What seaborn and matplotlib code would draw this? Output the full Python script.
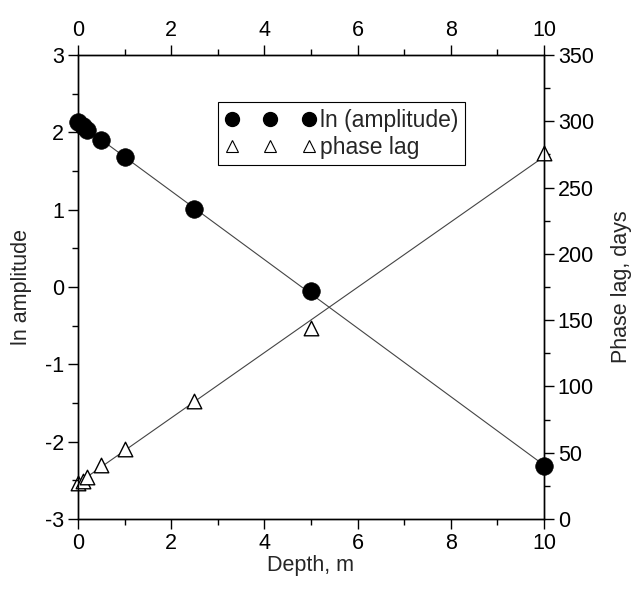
import numpy as np
import pandas as pd
import matplotlib
matplotlib.use("Agg")
import matplotlib.pyplot as plt
from matplotlib.lines import Line2D
from matplotlib.ticker import MultipleLocator
import seaborn as sns

depth = [0.0, 0.1, 0.2, 0.5, 1.0, 2.5, 5.0, 10.0]
ln_amp = [2.13, 2.08, 2.03, 1.90, 1.68, 1.01, -0.05, -2.32]
phase_lag = [27, 29, 32, 41, 53, 89, 144, 276]

sns.set_style("ticks")
plt.rcParams['font.family'] = ['Liberation Sans', 'DejaVu Sans']
plt.rcParams['font.size'] = 15
plt.rcParams['axes.unicode_minus'] = False
for a in ['x', 'y']:
    plt.rcParams[f'{a}tick.direction'] = 'out'
    plt.rcParams[f'{a}tick.major.size'] = 7
    plt.rcParams[f'{a}tick.minor.size'] = 4
    plt.rcParams[f'{a}tick.major.width'] = 1.0
    plt.rcParams[f'{a}tick.minor.width'] = 1.0
    plt.rcParams[f'{a}tick.color'] = 'black'
    plt.rcParams[f'{a}tick.labelcolor'] = 'black'
    plt.rcParams[f'{a}tick.labelsize'] = 15.5
    plt.rcParams[f'{a}tick.major.pad'] = 3
plt.rcParams['axes.edgecolor'] = 'black'
plt.rcParams['axes.linewidth'] = 1.0

df = pd.DataFrame({"depth": depth, "ln_amp": ln_amp, "phase": phase_lag})

# linear fits through the data
xs = np.array([0.0, 10.0])
pa = np.polyfit(df.depth, df.ln_amp, 1)
pp = np.polyfit(df.depth, df.phase, 1)
fit_amp = pd.DataFrame({"depth": xs, "v": np.polyval(pa, xs)})
fit_ph = pd.DataFrame({"depth": xs, "v": np.polyval(pp, xs)})

fig = plt.figure(figsize=(6.36, 5.97), dpi=100)
ax = fig.add_axes([0.1226, 0.1307, 0.7327, 0.7772])
ax2 = ax.twinx()

sns.lineplot(data=fit_amp, x="depth", y="v", ax=ax, color="#444444", lw=0.8)
sns.scatterplot(data=df, x="depth", y="ln_amp", ax=ax, color="black", s=160,
                marker="o", edgecolor="black", linewidth=0.5, zorder=5,
                clip_on=False)
sns.lineplot(data=fit_ph, x="depth", y="v", ax=ax2, color="#444444", lw=0.8)
sns.scatterplot(data=df, x="depth", y="phase", ax=ax2, marker="^", s=110,
                facecolor="white", edgecolor="black", linewidth=1.0, zorder=5,
                clip_on=False)

ax.set_xlim(0, 10)
ax.set_ylim(-3, 3)
ax2.set_ylim(0, 350)
ax.xaxis.set_major_locator(MultipleLocator(2))
ax.xaxis.set_minor_locator(MultipleLocator(1))
ax.yaxis.set_major_locator(MultipleLocator(1))
ax.yaxis.set_minor_locator(MultipleLocator(0.5))
ax2.yaxis.set_major_locator(MultipleLocator(50))
ax2.yaxis.set_minor_locator(MultipleLocator(25))
ax.tick_params(axis='x', which='both', top=True, labeltop=True)
ax2.tick_params(axis='x', which='both', top=False)

ax.set_xlabel("Depth, m", fontsize=15.5, labelpad=1)
ax.set_ylabel("ln amplitude", fontsize=15.5, labelpad=9)
ax2.set_ylabel("Phase lag, days", fontsize=15.5, labelpad=12)
for s in ax.spines.values():
    s.set_visible(True)
for s in ax2.spines.values():
    s.set_visible(True)

handles = [
    Line2D([], [], ls='none', marker='o', color='black', markersize=10),
    Line2D([], [], ls='none', marker='^', markerfacecolor='white',
           markeredgecolor='black', markersize=8, markeredgewidth=0.8),
]
leg = ax.legend(handles, ["ln (amplitude)", "phase lag"], numpoints=3,
                loc="upper left", bbox_to_anchor=(0.30, 0.898),
                handlelength=4.0, handletextpad=0.15, frameon=True,
                fancybox=False, edgecolor='black', framealpha=1,
                borderpad=0.3, borderaxespad=0, labelspacing=0.15, fontsize=16.5)
leg.get_frame().set_linewidth(0.8)
leg.set_zorder(10)
ax.set_zorder(ax2.get_zorder() + 1)
ax.patch.set_visible(False)

fig.savefig("out.png", dpi=100)
